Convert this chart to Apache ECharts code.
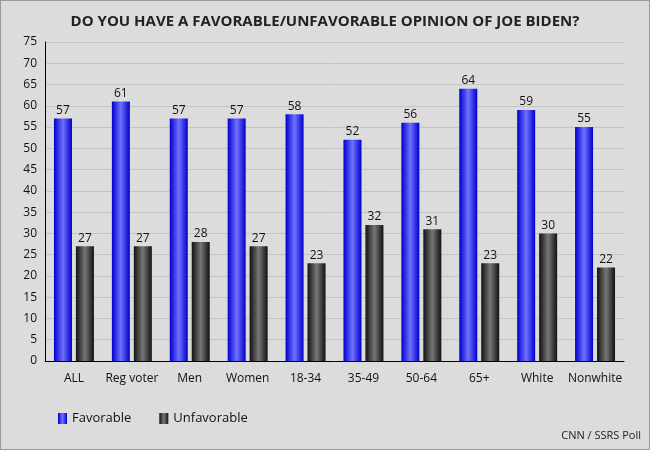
<!DOCTYPE html>
<html><head><meta charset="utf-8">
<script src="https://cdn.jsdelivr.net/npm/echarts@6/dist/echarts.min.js"></script>
<style>body{margin:0;background:#dcdcdc}#c{width:650px;height:450px;box-sizing:border-box;border:1px solid #999}</style>
</head><body><div id="c"></div>
<script>
var categories = ['ALL','Reg voter','Men','Women','18-34','35-49','50-64','65+','White','Nonwhite']
var favorable = [57,61,57,57,58,52,56,64,59,55]
var unfavorable = [27,27,28,27,23,32,31,23,30,22]

function grad(edge, mid) {
    return new echarts.graphic.LinearGradient(0,0,1,0,[
        {offset:0,color:edge},{offset:0.5,color:mid},{offset:1,color:edge}])
}
var chart = echarts.init(document.getElementById('c'))
var lbl = {show:true,position:'top',color:'#111',fontSize:12,fontFamily:'Open Sans',distance:2}
chart.setOption({
    backgroundColor:'#dcdcdc',
    textStyle:{fontFamily:'Open Sans'},
    title:{text:'DO YOU HAVE A FAVORABLE/UNFAVORABLE OPINION OF JOE BIDEN?',left:'center',top:8,
        textStyle:{fontSize:15,fontWeight:'bold',color:'#222'}},
    graphic:[{type:'text',right:8,bottom:8,style:{text:'CNN / SSRS Poll',fontSize:11,fill:'#222',fontFamily:'Open Sans'}}],
    legend:{left:52,top:406,icon:'rect',itemWidth:9,itemHeight:11,itemGap:28,
        textStyle:{fontSize:13,color:'#111'},data:['Favorable','Unfavorable']},
    grid:{left:44,right:25,top:41,bottom:88},
    xAxis:{type:'category',data:categories,axisLine:{lineStyle:{color:'#000'}},axisTick:{show:false},
        axisLabel:{color:'#111',fontSize:12,margin:12,interval:0}},
    yAxis:{type:'value',min:0,max:75,interval:5,axisLine:{show:true,lineStyle:{color:'#000'}},
        axisLabel:{color:'#111',fontSize:12},splitLine:{lineStyle:{color:'#c4c4c4'}}},
    series:[
        {name:'Favorable',type:'bar',data:favorable,barWidth:18,barGap:'22%',
            itemStyle:{color:grad('#0000cc','#7070ff')},label:lbl},
        {name:'Unfavorable',type:'bar',data:unfavorable,barWidth:18,
            itemStyle:{color:grad('#111','#777')},label:lbl}
    ]
})
</script></body></html>
